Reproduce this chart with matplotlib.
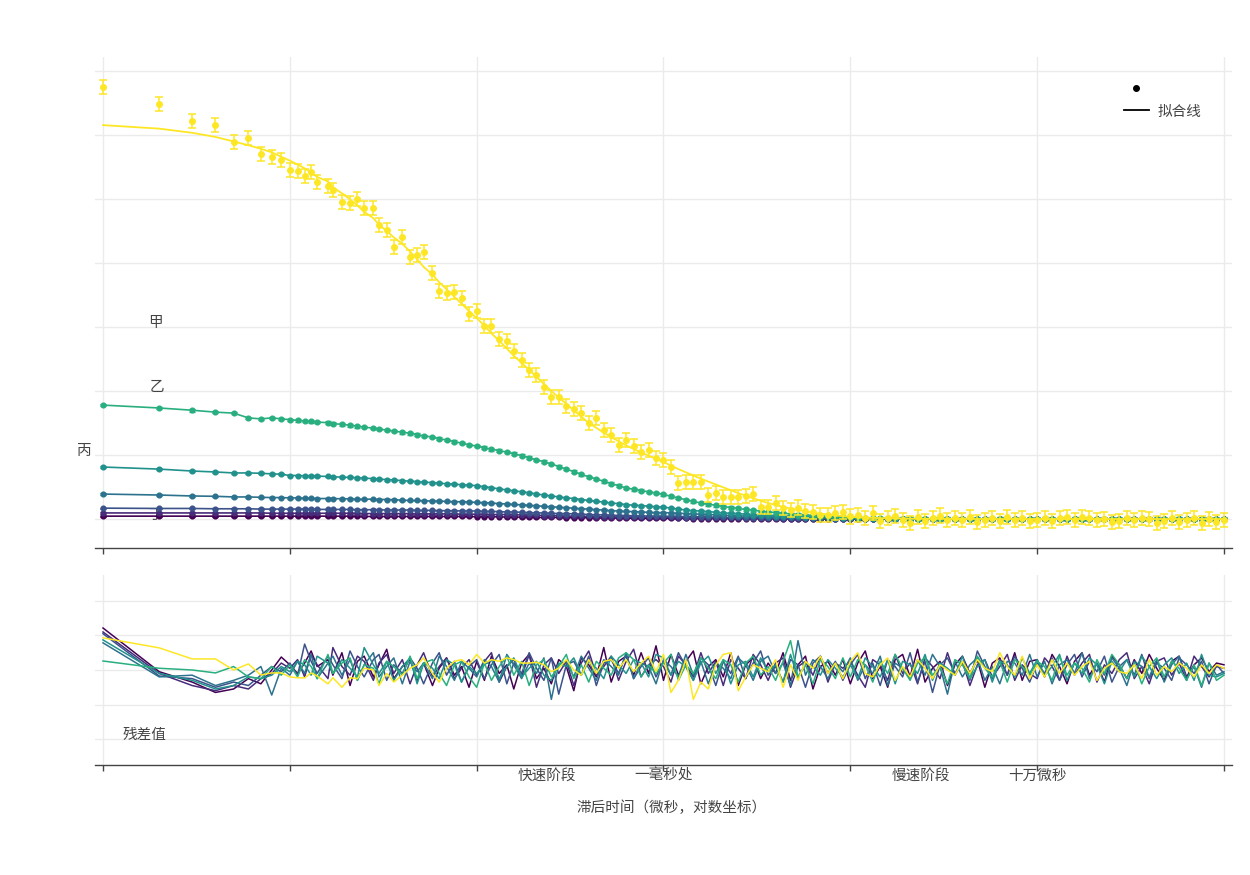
import matplotlib
matplotlib.use('Agg')
import matplotlib.pyplot as plt
from matplotlib.lines import Line2D
from matplotlib.ticker import NullLocator
from matplotlib import transforms

plt.rcParams['font.family'] = ['Noto Sans CJK SC', 'DejaVu Sans']

# lag times (log spaced)
tau = [1, 2, 3, 4, 5, 6, 7, 8, 9,
       10, 11, 12, 13, 14, 16, 17, 19, 21, 23, 25, 28, 30, 33, 36, 40, 44, 48, 52, 58, 63, 69, 76, 83, 91,
       100, 110, 120, 132, 145, 158, 174, 191, 209, 229, 251, 275, 302, 331, 363, 398, 437, 479, 525, 575, 631, 692, 759, 832, 912,
       1000, 1096, 1202, 1318, 1445, 1585, 1738, 1905, 2089, 2291, 2512, 2754, 3020, 3311, 3631, 3981, 4365, 4786, 5248, 5754, 6310, 6918, 7586, 8318, 9120,
       10000, 10960, 12020, 13180, 14450, 15850, 17380, 19050, 20890, 22910, 25120, 27540, 30200, 33110, 36310, 39810, 43650, 47860, 52480, 57540, 63100, 69180, 75860, 83180, 91200,
       100000, 109600, 120200, 131800, 144500, 158500, 173800, 190500, 208900, 229100, 251200, 275400, 302000, 331100, 363100, 398100, 436500, 478600, 524800, 575400, 631000, 691800, 758600, 831800, 912000,
       1000000]

g_yellow = [1.350, 1.297, 1.244, 1.231, 1.178, 1.190, 1.140, 1.131, 1.122,
            1.090, 1.088, 1.072, 1.084, 1.053, 1.040, 1.028, 0.990, 0.988, 1.000, 0.972, 0.972, 0.920, 0.903, 0.850, 0.881, 0.819, 0.825, 0.834, 0.768, 0.712, 0.706, 0.709, 0.690, 0.640,
            0.650, 0.603, 0.603, 0.562, 0.556, 0.525, 0.497, 0.466, 0.450, 0.413, 0.381, 0.381, 0.353, 0.345, 0.330, 0.300, 0.316, 0.278, 0.263, 0.231, 0.247, 0.228, 0.209, 0.215, 0.190,
            0.185, 0.163, 0.113, 0.115, 0.115, 0.115, 0.075, 0.081, 0.069, 0.069, 0.070, 0.072, 0.078, 0.038, 0.038, 0.050, 0.034, 0.028, 0.036, 0.025, 0.022, 0.013, 0.012, 0.018, 0.022,
            0.008, 0.012, 0.004, 0.018, -0.005, 0.002, 0.010, -0.004, -0.012, 0.006, -0.006, 0.004, 0.011, -0.003, 0.003, -0.002, 0.007, -0.009, -0.004, 0.002, -0.006, 0.005, -0.002, 0.003, -0.005,
            -0.003, 0.004, -0.006, 0.002, 0.006, -0.002, 0.005, 0.003, -0.004, 0.001, -0.008, -0.005, 0.002, -0.003, 0.004, 0.000, -0.012, -0.007, 0.003, -0.010, -0.004, 0.002, -0.011, 0.001, -0.009,
            -0.003]

fit_yellow = [1.231, 1.220, 1.207, 1.194, 1.180, 1.168, 1.157, 1.146, 1.132,
              1.120, 1.108, 1.096, 1.083, 1.069, 1.055, 1.037, 1.018, 0.999, 0.980, 0.960, 0.940, 0.920, 0.900, 0.880, 0.860, 0.836, 0.812, 0.788, 0.764, 0.740, 0.718, 0.695, 0.673, 0.650,
              0.628, 0.604, 0.580, 0.557, 0.533, 0.510, 0.488, 0.466, 0.444, 0.422, 0.400, 0.380, 0.360, 0.340, 0.320, 0.300, 0.285, 0.270, 0.256, 0.243, 0.230, 0.219, 0.208, 0.198, 0.188,
              0.178, 0.167, 0.156, 0.146, 0.136, 0.126, 0.117, 0.108, 0.099, 0.090, 0.081, 0.073, 0.065, 0.057, 0.050, 0.044, 0.038, 0.033, 0.028, 0.024, 0.020, 0.017, 0.014, 0.011, 0.009,
              0.007, 0.0055, 0.0045, 0.0035, 0.003, 0.0025, 0.002, 0.0015, 0.001, 0.001, 0.0008, 0.0006, 0.0005, 0.0004, 0.0003, 0.0002, 0.0002, 0.0001, 0.0001, 0, 0, 0, 0, 0, 0,
              0, 0, 0, 0, 0, 0, 0, 0, 0, 0, 0, 0, 0, 0, 0, 0, 0, 0, 0, 0, 0, 0, 0, 0, 0,
              0]

g_green = [0.356, 0.347, 0.340, 0.334, 0.331, 0.316, 0.313, 0.316, 0.313,
           0.310, 0.308, 0.306, 0.305, 0.303, 0.301, 0.298, 0.296, 0.293, 0.290, 0.287, 0.284, 0.281, 0.278, 0.275, 0.271, 0.268, 0.264, 0.260, 0.256, 0.251, 0.247, 0.242, 0.237, 0.232,
           0.228, 0.223, 0.218, 0.214, 0.209, 0.204, 0.198, 0.192, 0.185, 0.179, 0.172, 0.164, 0.156, 0.148, 0.140, 0.132, 0.125, 0.118, 0.111, 0.104, 0.097, 0.093, 0.089, 0.085, 0.081,
           0.077, 0.071, 0.066, 0.060, 0.055, 0.050, 0.046, 0.043, 0.039, 0.036, 0.033, 0.030, 0.027, 0.025, 0.022, 0.020, 0.018, 0.016, 0.014, 0.013, 0.011, 0.010, 0.008, 0.007, 0.006,
           0.005, 0.004, 0.0035, 0.003, 0.0025, 0.002, 0.002, 0.0015, 0.001, 0.001, 0.001, 0.0005, 0.0005, 0.001, 0.0005, 0, 0.001, 0, 0.0005, 0, 0.001, 0, 0, 0.0005, 0,
           0, 0.001, 0, -0.0005, 0, 0.001, 0, 0, -0.0005, 0.0005, 0, 0, 0.001, 0, -0.0005, 0, 0.0005, 0, 0, 0.001, 0, -0.0005, 0, 0.0005, 0,
           0]

g_teal = [0.1625, 0.156, 0.150, 0.147, 0.144, 0.144, 0.143, 0.141, 0.140,
          0.136, 0.136, 0.135, 0.134, 0.134, 0.133, 0.132, 0.131, 0.130, 0.129, 0.128, 0.126, 0.125, 0.123, 0.122, 0.120, 0.118, 0.117, 0.115, 0.114, 0.112, 0.110, 0.109, 0.107, 0.106,
          0.104, 0.101, 0.098, 0.094, 0.091, 0.088, 0.085, 0.082, 0.078, 0.075, 0.072, 0.069, 0.066, 0.064, 0.061, 0.058, 0.055, 0.053, 0.050, 0.048, 0.045, 0.043, 0.042, 0.040, 0.038,
          0.037, 0.034, 0.031, 0.028, 0.026, 0.025, 0.023, 0.021, 0.019, 0.018, 0.017, 0.015, 0.014, 0.013, 0.012, 0.011, 0.010, 0.009, 0.008, 0.007, 0.006, 0.005, 0.005, 0.004, 0.003,
          0.003, 0.0025, 0.002, 0.002, 0.0015, 0.001, 0.001, 0.001, 0.0005, 0.0005, 0, 0.0005, 0, 0, 0.0005, 0, 0, 0, 0.0005, 0, 0, 0, 0, 0, 0,
          0, 0, 0, 0, 0, 0, 0, 0, 0, 0, 0, 0, 0, 0, 0, 0, 0, 0, 0, 0, 0, 0, 0, 0, 0,
          0]

g_blueteal = [0.078, 0.075, 0.072, 0.071, 0.069, 0.069, 0.068, 0.067, 0.067,
              0.066, 0.066, 0.065, 0.065, 0.064, 0.064, 0.064, 0.063, 0.063, 0.062, 0.062, 0.062, 0.061, 0.061, 0.060, 0.059, 0.058, 0.058, 0.057, 0.056, 0.056, 0.055, 0.054, 0.054, 0.053,
              0.052, 0.051, 0.050, 0.048, 0.047, 0.046, 0.044, 0.043, 0.041, 0.040, 0.038, 0.037, 0.035, 0.034, 0.032, 0.031, 0.029, 0.028, 0.026, 0.025, 0.024, 0.023, 0.022, 0.021, 0.020,
              0.020, 0.019, 0.018, 0.017, 0.016, 0.015, 0.014, 0.013, 0.012, 0.011, 0.010, 0.009, 0.009, 0.008, 0.007, 0.006, 0.006, 0.005, 0.005, 0.004, 0.004, 0.003, 0.003, 0.003, 0.002,
              0.002, 0.002, 0.0015, 0.0015, 0.001, 0.001, 0.001, 0.0005, 0.0005, 0.0005, 0, 0, 0, 0, 0, 0, 0, 0, 0, 0, 0, 0, 0, 0, 0,
              0, 0, 0, 0, 0, 0, 0, 0, 0, 0, 0, 0, 0, 0, 0, 0, 0, 0, 0, 0, 0, 0, 0, 0, 0,
              0]

g_blue = [0.034, 0.033, 0.033, 0.032, 0.032, 0.032, 0.031, 0.031, 0.031,
          0.031, 0.031, 0.031, 0.031, 0.030, 0.030, 0.030, 0.030, 0.030, 0.029, 0.029, 0.029, 0.029, 0.028, 0.028, 0.028, 0.028, 0.027, 0.027, 0.027, 0.026, 0.026, 0.026, 0.025, 0.025,
          0.025, 0.024, 0.024, 0.023, 0.022, 0.022, 0.021, 0.020, 0.019, 0.019, 0.018, 0.017, 0.017, 0.016, 0.015, 0.014, 0.013, 0.013, 0.012, 0.011, 0.011, 0.010, 0.010, 0.009, 0.009,
          0.009, 0.008, 0.008, 0.007, 0.007, 0.007, 0.006, 0.006, 0.005, 0.005, 0.005, 0.004, 0.004, 0.004, 0.003, 0.003, 0.003, 0.003, 0.002, 0.002, 0.002, 0.002, 0.002, 0.001, 0.001,
          0.001, 0.001, 0.001, 0.001, 0.0005, 0.0005, 0.0005, 0, 0, 0, 0, 0, 0, 0, 0, 0, 0, 0, 0, 0, 0, 0, 0, 0, 0,
          0, 0, 0, 0, 0, 0, 0, 0, 0, 0, 0, 0, 0, 0, 0, 0, 0, 0, 0, 0, 0, 0, 0, 0, 0,
          0]

g_violet = [0.019, 0.019, 0.019, 0.019, 0.019, 0.019, 0.019, 0.018, 0.018,
            0.018, 0.018, 0.018, 0.018, 0.018, 0.018, 0.018, 0.018, 0.018, 0.018, 0.017, 0.017, 0.017, 0.017, 0.017, 0.017, 0.017, 0.016, 0.016, 0.016, 0.016, 0.016, 0.016, 0.015, 0.015,
            0.015, 0.015, 0.014, 0.014, 0.014, 0.013, 0.013, 0.012, 0.012, 0.011, 0.011, 0.010, 0.009, 0.009, 0.008, 0.008, 0.007, 0.007, 0.007, 0.006, 0.006, 0.006, 0.005, 0.005, 0.005,
            0.005, 0.005, 0.004, 0.004, 0.004, 0.004, 0.003, 0.003, 0.003, 0.003, 0.003, 0.002, 0.002, 0.002, 0.002, 0.002, 0.001, 0.001, 0.001, 0.001, 0.001, 0.001, 0.0005, 0.0005, 0.0005,
            0.0005, 0.0005, 0, 0, 0, 0, 0, 0, 0, 0, 0, 0, 0, 0, 0, 0, 0, 0, 0, 0, 0, 0, 0, 0, 0,
            0, 0, 0, 0, 0, 0, 0, 0, 0, 0, 0, 0, 0, 0, 0, 0, 0, 0, 0, 0, 0, 0, 0, 0, 0,
            0]

g_purple = [0.009, 0.009, 0.009, 0.009, 0.009, 0.009, 0.009, 0.009, 0.009,
            0.009, 0.009, 0.009, 0.009, 0.009, 0.009, 0.009, 0.009, 0.009, 0.009, 0.008, 0.008, 0.008, 0.008, 0.008, 0.008, 0.008, 0.008, 0.008, 0.008, 0.008, 0.008, 0.008, 0.008, 0.008,
            0.007, 0.007, 0.007, 0.007, 0.006, 0.006, 0.006, 0.006, 0.005, 0.005, 0.005, 0.005, 0.004, 0.004, 0.004, 0.004, 0.003, 0.003, 0.003, 0.003, 0.003, 0.002, 0.002, 0.002, 0.002,
            0.002, 0.002, 0.002, 0.002, 0.001, 0.001, 0.001, 0.001, 0.001, 0.001, 0.001, 0.001, 0.001, 0.0005, 0.0005, 0.0005, 0.0005, 0.0005, 0.0005, 0, 0, 0, 0, 0, 0,
            0, 0, 0, 0, 0, 0, 0, 0, 0, 0, 0, 0, 0, 0, 0, 0, 0, 0, 0, 0, 0, 0, 0, 0, 0,
            0, 0, 0, 0, 0, 0, 0, 0, 0, 0, 0, 0, 0, 0, 0, 0, 0, 0, 0, 0, 0, 0, 0, 0, 0,
            0]

# weighted residuals
r_yellow = [1.86, 1.28, 0.64, 0.64, 0.0, 0.35, -0.29, -0.17, -0.17,
            -0.4, -0.45, -0.46, -0.17, -0.35, -0.8, -0.45, -1.0, -0.45, -0.5, 0.1, 0.0, -0.9, -0.2, -0.7, -0.3, 0.1, 0.3, 0.7, -0.2, -0.7, 0.1, 0.5, 0.6, 0.3,
            0.9, 0.4, 0.6, 0.5, 0.7, 0.6, 0.4, 0.4, 0.45, 0.3, -0.1, 0.1, 0.6, 0.0, -0.3, 0.6, -0.2, 0.5, 0.6, 0.1, 0.6, -0.1, 0.4, 0.8, -0.1,
            0.9, -1.3, -0.6, 0.6, -1.7, -0.7, -1.1, 0.3, 0.9, 1.0, -1.2, -0.4, 0.3, 0.1, -0.1, 0.6, -1.0, 0.3, -0.6, 0.5, 0.1, 0.8, -0.2, 0.4, -0.5,
            0.5, 1.0, -0.2, -0.4, 0.3, 0.7, -0.6, 0.2, -0.4, 0.6, 0.1, -0.5, 0.3, 0.0, -0.3, 0.5, -0.2, 0.6, 0.1, -0.1, 1.0, 0.2, -0.3, 0.8, -0.5,
            0.3, -0.4, 0.6, -0.2, 0.4, -0.3, 0.2, 0.5, -0.6, 0.1, 0.4, -0.1, -0.2, 0.3, -0.5, 0.6, -0.3, 0.2, -0.1, 0.4, 0.1, -0.4, 0.3, -0.2, 0.3,
            0.1]

r_purple = [2.43, -0.1, -0.7, -1.3, -1.1, -0.5, -0.8, 0.0, 0.75,
            0.3, -0.2, 0.4, 1.1, 0.2, 0.6, -0.3, 1.0, -0.9, 0.5, 0.8, -0.4, 0.3, 1.2, -0.5, 0.2, 0.6, -0.6, 0.4, -0.9, 0.1, 0.7, -0.3, 0.2, -1.0,
            0.5, -0.6, 0.8, -0.2, 0.3, -1.1, 0.4, 0.9, -0.5, 0.1, -0.8, 0.6, 0.2, -1.2, 0.7, 0.3, -0.4, 1.3, -0.7, 0.5, 0.8, -0.3, 1.0, -0.2, 1.4,
            -0.6, 0.9, -0.3, 0.5, 1.1, -0.8, 0.2, 0.6, -0.4, 1.0, -0.9, 0.3, 0.7, -0.5, 0.4, -0.2, 1.0, -0.6, 0.3, 0.8, -1.1, 0.2, 0.5, -0.3, 0.6,
            -0.8, 0.4, 1.1, -0.5, 0.2, -1.0, 0.6, 0.9, -0.4, 1.2, -0.7, 0.1, 0.5, -0.9, 0.3, 0.8, -0.2, 0.6, -1.0, 0.4, 0.7, -0.3, 1.0, -0.6, 0.5,
            0.6, -0.4, 0.9, 0.2, -0.8, 0.5, 1.0, -0.3, 0.4, -0.7, 0.8, 0.3, -0.5, 0.6, -0.2, 0.9, 0.1, -0.6, 0.5, 0.8, -0.4, 0.3, 0.7, -0.1, 0.4,
            0.3]

r_violet = [2.2, -0.2, -0.9, -1.2, -0.9, -1.1, -0.5, -0.2, 0.4,
            0.1, 0.6, -0.4, 0.9, 0.3, -0.5, 1.3, 0.2, -0.3, 0.8, 0.5, -0.6, 0.4, 0.9, -0.2, 0.6, -0.8, 0.3, 1.0, -0.4, 0.2, 0.7, -0.5, 0.1, 0.6,
            -0.3, 0.5, 1.0, -0.7, 0.2, 0.6, -0.4, 0.9, -1.0, 0.3, 0.7, -0.2, 0.5, -0.9, 0.4, 1.1, -0.3, 0.2, 0.8, -0.6, 0.5, 1.2, -0.4, 0.3, 0.6,
            0.2, -0.7, 0.8, 0.3, -0.4, 1.0, -0.2, 0.5, -0.9, 0.6, 0.1, -0.5, 0.9, 0.3, -0.6, 0.4, 0.7, -1.0, 0.2, 0.5, -0.3, 0.8, -0.7, 0.4, 0.1,
            0.5, -0.3, -1.0, 0.6, 0.3, -0.6, 0.9, -0.2, 0.4, -0.8, 0.7, 0.2, -0.5, 1.0, -0.3, 0.5, -0.9, 0.3, 0.6, -0.4, 0.2, 0.9, -0.6, 0.3, -0.2,
            -0.5, 0.7, 0.2, -0.6, 0.8, -0.3, 0.4, 0.9, -0.7, 0.3, -0.2, 0.6, 1.0, -0.5, 0.2, -0.8, 0.5, 0.7, -0.3, 0.4, -0.6, 0.8, 0.2, -0.4, 0.2,
            0.1]

r_blue = [2.1, -0.35, -0.5, -1.0, -0.7, -0.9, -0.3, 0.2, -0.1,
          0.4, -0.3, 1.5, 0.5, -0.2, 0.8, 0.3, -0.5, 1.1, 0.2, -0.4, 0.6, 0.9, -0.6, 0.3, -0.2, 0.7, 0.1, -0.8, 0.4, 1.0, -0.3, 0.5, -0.7, 0.2,
          0.6, -0.5, 0.3, 0.9, -0.8, 0.4, -0.2, 1.0, 0.1, -0.6, 0.7, -1.4, 0.3, 0.5, -0.3, 0.8, -0.9, 0.4, 0.6, -0.2, 0.9, -0.5, 0.2, 0.7, -0.4,
          0.5, -0.3, 1.0, 0.2, -0.6, 0.7, 0.3, -0.9, 0.5, -0.2, 0.8, -0.5, 0.4, 1.1, -0.3, 0.2, -0.7, 0.6, 0.3, -1.0, 0.4, 0.8, -0.2, 0.5, -0.6,
          0.3, 0.9, -0.5, 0.4, -0.9, 0.6, 0.2, -0.4, 1.0, -0.7, 0.5, -1.3, 0.3, 0.7, -0.2, 0.4, -0.6, 1.1, 0.2, -0.5, 0.6, -0.3, 0.8, 0.1, -0.7,
          0.4, -0.2, 0.7, -0.6, 0.3, 0.9, -0.4, 0.5, -0.1, 0.8, -0.7, 0.2, 0.6, -0.3, 0.9, -0.5, 0.4, 0.1, -0.6, 0.7, 0.3, -0.2, 0.5, -0.8, 0.3,
          -0.2]

r_blueteal = [1.57, -0.4, -0.3, -0.9, -0.6, -0.3, 0.2, -1.45, 0.1,
              -0.3, 0.5, -0.2, 0.9, -0.5, 0.4, 0.8, -0.3, 0.6, -0.6, 0.3, 1.0, -0.4, 0.2, 0.7, -0.8, 0.5, -0.1, 0.4, -0.5, 0.8, 0.2, -0.6, 0.5, 0.1,
              -0.4, 0.6, 0.2, -0.7, 0.9, 0.3, -0.5, 0.4, -0.2, 0.7, -1.7, 0.3, 0.5, -0.4, 0.8, 0.1, -0.6, 0.6, 0.2, -0.3, 1.0, -0.5, 0.4, 0.2, -0.8,
              0.6, 0.2, -0.4, 0.9, -0.3, 0.5, -0.8, 0.4, 0.1, -0.5, 0.7, 0.3, -0.6, 0.5, 0.8, -0.2, 0.4, -0.9, 1.7, -0.3, 0.6, 0.2, -0.5, 0.4, -0.1,
              0.7, -0.6, 0.3, -0.2, 0.8, -0.9, 0.4, 0.1, -0.5, 0.6, -0.3, 0.9, 0.2, -1.4, 0.5, -0.4, 0.3, 0.7, -0.6, 0.2, -0.8, 0.5, 0.4, -0.3, 0.9,
              -0.4, 0.5, -0.8, 0.3, 0.6, -0.2, 1.0, -0.5, 0.4, -0.3, 0.7, 0.1, -0.9, 0.5, 0.2, -0.4, 0.6, -0.7, 0.3, 0.8, -0.5, 0.2, -1.0, 0.4, -0.3,
              -0.1]

r_teal = [1.74, -0.2, -0.6, -1.1, -0.9, -0.4, -0.5, -0.3, 0.2,
          -0.1, 0.5, 0.3, -0.3, 0.8, 0.4, -0.2, 0.6, 0.1, -0.4, 1.3, 0.3, -0.2, 0.5, -0.6, 0.2, 0.7, -0.8, 0.4, 0.1, -0.5, 0.6, 0.3, -0.7, 0.2,
          -0.2, 0.3, 0.6, -0.5, 0.2, 0.7, -0.4, 0.1, 0.5, -0.3, -0.6, 0.4, 0.2, 0.7, -0.3, 0.5, 0.1, -0.5, 0.8, 0.3, -0.2, 0.6, 0.4, -0.4, 0.9,
          0.7, -0.3, 0.5, 0.2, -0.6, 0.4, 0.8, -0.2, 0.6, -0.8, 0.3, 0.5, -0.4, 0.7, -0.1, 0.3, -0.7, 0.9, -0.5, 0.4, 0.2, -0.3, 0.6, 0.1, -0.4,
          0.3, -0.5, 0.7, 0.2, -0.4, 0.6, -0.8, 0.5, 0.3, -0.2, 0.9, -0.6, 0.4, 0.1, -0.3, 0.8, -0.5, 0.2, 0.6, -0.7, 0.5, 0.3, -0.4, 0.7, -0.2,
          0.6, -0.3, 0.2, 0.9, -0.6, 0.4, -0.2, 0.7, 0.3, -0.8, 0.5, -0.1, 0.6, -0.4, 0.8, 0.2, -0.5, 0.3, 0.7, -0.2, 0.4, -0.6, 0.9, -0.3, -0.4,
          -0.2]

r_green = [0.52, 0.1, 0.0, -0.17, 0.2, -0.4, -0.5, 0.2, -0.3,
           0.3, -0.4, 0.6, 0.2, -0.5, 0.9, -0.2, 0.4, 0.7, -0.6, 0.3, 0.1, -0.8, 0.5, 0.2, -0.3, 0.8, -0.5, 0.4, 0.6, -0.2, -0.9, 0.3, 0.5, -0.4,
           -1.0, 0.4, -0.6, 0.2, 0.8, -0.3, 0.5, -0.9, 0.3, 0.6, -0.4, 0.2, 0.9, -0.5, 0.3, -0.7, 0.5, 0.1, -0.3, 0.7, 1.0, 0.6, -0.4, 0.3, -0.2,
           0.4, 0.9, -0.6, 0.3, -0.2, 0.7, 0.1, -0.5, 0.6, 0.3, -0.7, 0.4, 0.8, -0.3, 0.2, -0.6, 0.5, 1.7, -0.4, 0.3, -0.8, 0.6, 0.2, -0.5, 0.7,
           -0.4, 0.6, 0.3, -0.7, 0.5, -0.2, 0.9, 0.1, -0.6, 0.4, 0.7, -0.3, 0.2, -0.8, 0.6, 0.3, -0.5, 0.8, 0.1, -0.4, 0.5, -0.7, 0.6, 0.2, -0.3,
           0.5, 0.2, -0.6, 0.8, -0.3, 0.4, 0.1, -0.7, 0.6, -0.2, 0.9, 0.3, -0.5, 0.4, -0.8, 0.2, 0.7, -0.4, 0.5, 0.1, -0.6, 0.3, -0.9, 0.4, -0.6,
           -0.3]

colors = {'purple': '#440154', 'violet': '#472c7a', 'blue': '#3b528b', 'blueteal': '#2c728e',
          'teal': '#21918c', 'green': '#29af7f', 'yellow': '#fde725'}
errs = {'purple': 0.002, 'violet': 0.002, 'blue': 0.002, 'blueteal': 0.002,
        'teal': 0.003, 'green': 0.004, 'yellow': 0.022}

curve_labels = ['甲', '乙', '丙', '丁']
curve_label_x = [1.9, 1.95, 0.79, 1.9]
curve_label_y = [0.6125, 0.4125, 0.2125, 0.0125]
xtick_texts = ['快速阶段', '一毫秒处', '慢速阶段', '十万微秒']
xtick_text_pos = [237, 1000, 23700, 100000]

data = [('purple', g_purple, r_purple), ('violet', g_violet, r_violet), ('blue', g_blue, r_blue),
        ('blueteal', g_blueteal, r_blueteal), ('teal', g_teal, r_teal), ('green', g_green, r_green)]
for name, g, r in data + [('yellow', g_yellow, r_yellow)]:
    assert len(g) == len(tau) and len(r) == len(tau), (name, len(g), len(r), len(tau))

TXT = '#444444'
GRID = '#ebebeb'

fig = plt.figure(figsize=(12.5, 8.75), dpi=100)
ax1 = fig.add_axes([0.076, 0.3737, 0.9096, 0.5612])
ax2 = fig.add_axes([0.076, 0.1257, 0.9096, 0.2172])

for name, g, r in data:
    ax1.errorbar(tau, g, yerr=errs[name], fmt='o-', color=colors[name], ms=3.4, lw=1.2,
                 elinewidth=1, capsize=2.2, zorder=3)
ax1.plot(tau, fit_yellow, color=colors['yellow'], lw=1.3, zorder=4)
ax1.errorbar(tau, g_yellow, yerr=errs['yellow'], fmt='o', color=colors['yellow'], ms=4,
             elinewidth=1.1, capsize=3.2, capthick=1.1, zorder=5)

for name, g, r in data + [('yellow', g_yellow, r_yellow)]:
    ax2.plot(tau, r, color=colors[name], lw=1.1, zorder=3)

for ax in (ax1, ax2):
    ax.set_xscale('log')
    ax.set_xlim(0.906, 1.104e6)
    ax.set_xticks([1, 10, 100, 1000, 1e4, 1e5, 1e6])
    ax.xaxis.set_minor_locator(NullLocator())
    ax.tick_params(axis='x', length=4, width=1, color=TXT, labelbottom=False)
    ax.tick_params(axis='y', length=0, labelleft=False)
    ax.grid(True, color=GRID, lw=1)
    ax.set_axisbelow(True)
    for s in ('top', 'right', 'left'):
        ax.spines[s].set_visible(False)
    ax.spines['bottom'].set_color(TXT)
    ax.spines['bottom'].set_linewidth(1)

ax1.set_ylim(-0.0906, 1.444)
ax1.set_yticks([0, 0.2, 0.4, 0.6, 0.8, 1.0, 1.2, 1.4])
ax2.set_ylim(-5.5, 5.5)
ax2.set_yticks([-4, -2, 0, 2, 4])

for t, xx, yy in zip(curve_labels, curve_label_x, curve_label_y):
    ax1.text(xx, yy, t, ha='center', va='center', fontsize=10.5, color=TXT)

ax2.text(1.66, -3.77, '残差值', ha='center', va='center', fontsize=10.5, color=TXT)

trans = transforms.blended_transform_factory(ax2.transData, ax2.transAxes)
for t, xx in zip(xtick_texts, xtick_text_pos):
    ax2.text(xx, -0.055, t, transform=trans, ha='center', va='center', fontsize=10.5,
             color=TXT, clip_on=False)

fig.text(0.5376, 0.0766, '滞后时间（微秒，对数坐标）', ha='center', va='center',
         fontsize=10.5, color=TXT)

handles = [Line2D([], [], marker='o', color='black', ls='none', ms=4),
           Line2D([], [], color='black', lw=1.3)]
leg = ax1.legend(handles, ['', '拟合线'], loc='upper right', bbox_to_anchor=(0.978, 0.9613),
                 borderaxespad=0, frameon=True, fontsize=10.5, handlelength=1.7,
                 labelspacing=0.6, handletextpad=0.6)
leg.get_frame().set_facecolor('white')
leg.get_frame().set_edgecolor('none')
leg.get_frame().set_alpha(1)
for t in leg.get_texts():
    t.set_color(TXT)

fig.savefig('out.png', dpi=100, facecolor='white')
